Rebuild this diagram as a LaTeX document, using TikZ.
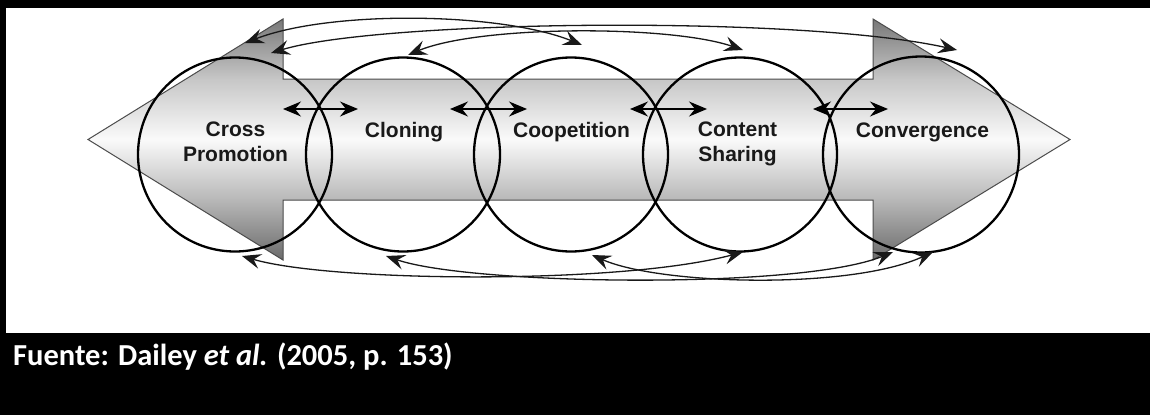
\documentclass[tikz,border=0pt]{standalone}
\usepackage{fontspec}
\setmainfont{Liberation Sans}
\newfontfamily\capfont{Carlito}
\usetikzlibrary{arrows.meta}

% grey tones of the double-headed band
\definecolor{bandTop}{gray}{0.47}
\definecolor{bandUpper}{gray}{0.78}
\definecolor{bandMid}{gray}{0.98}
\definecolor{bandLower}{gray}{0.72}
\definecolor{bandBottom}{gray}{0.42}
\definecolor{bandEdge}{gray}{0.30}

% vertical fill: dark at the tips of the heads, white along the axis
\pgfdeclareverticalshading{bandfill}{100bp}{%
  color(0bp)=(bandBottom); color(25bp)=(bandBottom); color(37.5bp)=(bandLower);
  color(50bp)=(bandMid); color(62.5bp)=(bandUpper); color(75bp)=(bandTop);
  color(100bp)=(bandTop)}

\begin{document}
\begin{tikzpicture}[x=1pt,y=-1pt,
  ring/.style={circle, draw=black, line width=2.3pt, minimum size=194pt, inner sep=0pt},
  lbl/.style={font=\fontsize{21}{24.5}\selectfont\bfseries, text=black!90,
              align=center, anchor=base, inner sep=0pt},
  pairlink/.style={line width=1.4pt,
     {Stealth[length=18pt,width=15pt,inset=6pt]}-{Stealth[length=18pt,width=15pt,inset=6pt]}},
  swoop/.style={line width=1.3pt, draw=black!90,
     {Stealth[length=19pt,width=15pt,inset=7pt]}-{Stealth[length=19pt,width=15pt,inset=7pt]}},
]
% page with black frame and caption bar
\fill[white] (0,0) rectangle (1150,415);
\fill[black] (0,0) rectangle (1150,7.5);
\fill[black] (0,0) rectangle (6,333);
\fill[black] (0,333) rectangle (1150,415);
\useasboundingbox (0,0) rectangle (1150,415);

% double-headed band
\shadedraw[shading=bandfill, draw=bandEdge, line width=1pt, line join=miter]
  (88,139.5) -- (283,19) -- (283,79) -- (873,79) -- (873,19) -- (1070,139.5)
  -- (873,260) -- (873,200) -- (283,200) -- (283,260) -- cycle;

% the five stages
\node[ring] (r1) at (235,154.5) {};
\node[ring] (r2) at (403,154.5) {};
\node[ring] (r3) at (571,154.5) {};
\node[ring] (r4) at (740,154.5) {};
\node[ring, minimum size=196pt] (r5) at (921,154.5) {};

% two-line labels are placed by the baseline of their last line
\node[lbl] (t1) at (235.5,161.2) {Cross\\Promotion};
\node[lbl] (t2) at (404,137.5) {Cloning};
\node[lbl] (t3) at (571.5,137.5) {Coopetition};
\node[lbl] (t4) at (737.5,161.2) {Content\\Sharing};
\node[lbl] (t5) at (922.5,137.5) {Convergence};

% links between neighbouring stages
\coordinate (p1a) at (283,109);  \coordinate (p1b) at (358,109);
\coordinate (p2a) at (450,109);  \coordinate (p2b) at (527,109);
\coordinate (p3a) at (630,109);  \coordinate (p3b) at (707,109);
\coordinate (p4a) at (813,109);  \coordinate (p4b) at (888,109);
\draw[pairlink] (p1a) -- (p1b);
\draw[pairlink] (p2a) -- (p2b);
\draw[pairlink] (p3a) -- (p3b);
\draw[pairlink] (p4a) -- (p4b);

% links between distant stages, above the band
\coordinate (u1a) at (245,43);  \coordinate (u1b) at (582,45);
\coordinate (u2a) at (271,53);  \coordinate (u2b) at (957,50);
\coordinate (u3a) at (408,55);  \coordinate (u3b) at (743,50);
\draw[swoop] (u1a) .. controls (330,10) and (500,12) .. (u1b);
\draw[swoop] (u2a) .. controls (380,20) and (800,15) .. (u2b);
\draw[swoop] (u3a) .. controls (480,25) and (670,25) .. (u3b);

% links between distant stages, below the band
\coordinate (d1a) at (242,256); \coordinate (d1b) at (743,252);
\coordinate (d2a) at (386,256); \coordinate (d2b) at (893,252);
\coordinate (d3a) at (592,255); \coordinate (d3b) at (933,252);
\draw[swoop] (d1a) .. controls (330,282) and (620,285) .. (d1b);
\draw[swoop] (d2a) .. controls (470,285) and (800,290) .. (d2b);
\draw[swoop] (d3a) .. controls (660,285) and (850,290) .. (d3b);

% source line
\node[anchor=base west, text=white, inner sep=0pt,
      font=\capfont\bfseries\fontsize{30.5}{36}\selectfont] (src) at (13,365)
  {Fuente: Dailey \textit{et al.} (2005, p. 153)};
\end{tikzpicture}
\end{document}
